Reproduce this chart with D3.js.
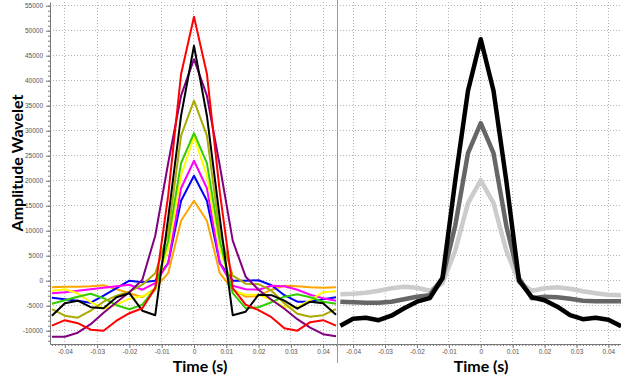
<!DOCTYPE html>
<html><head><meta charset="utf-8">
<script src="https://cdn.jsdelivr.net/npm/d3@7"></script>
<style>
html,body{margin:0;padding:0;background:#fff;}
svg{display:block;}
</style></head>
<body>
<svg id="chart" width="621" height="375"></svg>
<script>
// ---------- DATA ----------
const time = [-0.044,-0.040,-0.036,-0.032,-0.028,-0.024,-0.020,-0.016,-0.012,-0.008,-0.004,0,
              0.004,0.008,0.012,0.016,0.020,0.024,0.028,0.032,0.036,0.040,0.044];

const redWave    = [-9000,-7900,-8500,-9800,-10000,-8000,-6500,-5500,-1500,17000,41300,52800,41400,17700,-1500,-4800,-5900,-7300,-9500,-10000,-8300,-7900,-9000];
const blackWave  = [-7000,-4500,-4000,-5300,-5500,-3300,-2500,-6000,-6900,12500,33000,47000,33000,12500,-6900,-6200,-2800,-2900,-4000,-5600,-4200,-4500,-6800];
const purpleWave = [-11200,-11200,-10400,-8700,-6400,-4300,-2300,200,9000,23500,37000,44300,37000,23000,8000,800,-1800,-3800,-5600,-7700,-9400,-10700,-11100];
const oliveWave  = [-5700,-7000,-7400,-6000,-4200,-3000,-2200,-800,1500,9500,29000,36000,29000,9500,1000,-600,-700,-2000,-4500,-6600,-7200,-6900,-5700];
const greenWave  = [-4600,-3900,-3200,-2600,-3500,-4900,-5700,-4800,-1500,8000,23500,29500,23500,8000,-2500,-5500,-5300,-4300,-3200,-2700,-3300,-4200,-4600];
const yellowWave = [-2000,-1700,-2500,-4300,-5600,-4800,-3600,-3100,-2000,6500,21000,28800,21000,6500,-2000,-2800,-2800,-3800,-5300,-5300,-3900,-2300,-2100];
const magentaWave= [-2500,-2300,-2000,-1700,-1400,-1100,-800,-1800,-500,3500,18500,24000,18500,3500,-1000,-1700,-1800,-1000,-1100,-1800,-2800,-3500,-4000];
const blueWave   = [-3400,-3700,-4000,-4400,-3000,-1500,0,-300,0,3500,16000,21000,16000,3500,0,0,100,-900,-2900,-4200,-4200,-3700,-3300];
const orangeWave = [-1300,-1200,-1200,-1100,-900,-1700,-2500,-3300,-1500,1500,12000,16000,12000,1500,-1800,-3200,-3000,-1800,-1000,-1100,-1300,-1400,-1300];

const stackBlack = [-9000,-7600,-7400,-7900,-7000,-5500,-4200,-3500,500,20000,38000,48300,38000,20000,0,-3300,-3900,-5200,-6900,-7700,-7400,-7800,-9100];
const stackGray  = [-4200,-4300,-4400,-4400,-4200,-3700,-3200,-2900,500,11000,25500,31500,25500,11000,500,-3500,-3200,-3300,-3600,-4000,-4100,-4100,-4100];
const stackLight = [-2700,-2600,-2400,-2000,-1500,-1200,-1400,-2000,-500,6000,15500,20100,15500,6000,-300,-2000,-1500,-1300,-1600,-2100,-2500,-2800,-2900];

const xTicks = [-0.04,-0.03,-0.02,-0.01,0,0.01,0.02,0.03,0.04];
const xTickLabels = ["-0.04","-0.03","-0.02","-0.01","0","0.01","0.02","0.03","0.04"];
const yTicks = [-10000,-5000,0,5000,10000,15000,20000,25000,30000,35000,40000,45000,50000,55000];
const yTickLabels = ["-10000","-5000","0","5000","10000","15000","20000","25000","30000","35000","40000","45000","50000","55000"];

const leftSeries = [
  {name:"orange",  values:orangeWave,  color:"#ffa500"},
  {name:"blue",    values:blueWave,    color:"#0000ff"},
  {name:"magenta", values:magentaWave, color:"#ff00ff"},
  {name:"yellow",  values:yellowWave,  color:"#ffff00"},
  {name:"green",   values:greenWave,   color:"#33cc00"},
  {name:"olive",   values:oliveWave,   color:"#aaaa00"},
  {name:"purple",  values:purpleWave,  color:"#800080"},
  {name:"black",   values:blackWave,   color:"#000000"},
  {name:"red",     values:redWave,     color:"#ff0000"}
];
const rightSeries = [
  {name:"light", values:stackLight, color:"#cccccc"},
  {name:"gray",  values:stackGray,  color:"#666666"},
  {name:"black", values:stackBlack, color:"#000000"}
];

// ---------- LAYOUT ----------
const svg = d3.select("#chart");
const plotTop = 2, plotBottom = 344;
const xL = d3.scaleLinear().domain([-0.0446, 0.0443]).range([50, 337]);
const xR = d3.scaleLinear().domain([-0.04505, 0.04395]).range([337, 621]);
const y  = d3.scaleLinear().domain([-12660, 55740]).range([plotBottom, plotTop]);

const gridColor = "#b4b4b4";
function grid(x) {
  const g = svg.append("g");
  g.selectAll("line.v").data(xTicks).join("line").attr("class","v")
    .attr("x1", d => x(d)).attr("x2", d => x(d))
    .attr("y1", plotTop).attr("y2", plotBottom)
    .attr("stroke", gridColor).attr("stroke-width", 1).attr("stroke-dasharray", "1,2")
    .attr("shape-rendering","crispEdges");
  g.selectAll("line.h").data(yTicks).join("line").attr("class","h")
    .attr("x1", x.range()[0]).attr("x2", x.range()[1])
    .attr("y1", d => y(d)).attr("y2", d => y(d))
    .attr("stroke", gridColor).attr("stroke-width", 1).attr("stroke-dasharray", "1,2")
    .attr("shape-rendering","crispEdges");
}
grid(xL); grid(xR);

function xAxis(x) {
  const minor = d3.range(-45, 45).map(i => i / 1000).filter(v => v >= x.domain()[0] && v <= x.domain()[1]);
  const gm = svg.append("g").attr("transform", `translate(0,${plotBottom})`)
    .call(d3.axisBottom(x).tickValues(minor).tickSize(2).tickSizeOuter(0).tickFormat(""));
  gm.select(".domain").attr("stroke", "#777");
  gm.selectAll(".tick line").attr("stroke", "#777");
  const g = svg.append("g").attr("transform", `translate(0,${plotBottom})`)
    .call(d3.axisBottom(x).tickValues(xTicks).tickSize(4).tickSizeOuter(0).tickPadding(1.5)
      .tickFormat((d, i) => xTickLabels[i]));
  g.select(".domain").remove();
  g.selectAll(".tick line").attr("stroke", "#777");
  g.selectAll(".tick text").attr("font-family", "Liberation Sans, Arial, sans-serif")
    .attr("font-size", "6.5px").attr("fill", "#555");
}
xAxis(xL); xAxis(xR);

// y axis (left panel)
{
  const minor = d3.range(-12, 56).map(i => i * 1000);
  const gm = svg.append("g").attr("transform", `translate(50,0)`)
    .call(d3.axisLeft(y).tickValues(minor).tickSize(2).tickSizeOuter(0).tickFormat(""));
  gm.select(".domain").attr("stroke", "#777");
  gm.selectAll(".tick line").attr("stroke", "#777");
  const g = svg.append("g").attr("transform", `translate(50,0)`)
    .call(d3.axisLeft(y).tickValues(yTicks).tickSize(4).tickSizeOuter(0).tickPadding(3)
      .tickFormat((d, i) => yTickLabels[i]));
  g.select(".domain").remove();
  g.selectAll(".tick line").attr("stroke", "#777");
  g.selectAll(".tick text").attr("font-family", "Liberation Sans, Arial, sans-serif")
    .attr("font-size", "6.5px").attr("fill", "#555");
}

// divider
svg.append("line").attr("x1", 337.5).attr("x2", 337.5).attr("y1", 0).attr("y2", 363)
  .attr("stroke", "#999").attr("stroke-width", 1);

// ---------- LINES ----------
svg.append("clipPath").attr("id", "clipL").append("rect")
  .attr("x", 50).attr("y", 0).attr("width", 287).attr("height", plotBottom);
svg.append("clipPath").attr("id", "clipR").append("rect")
  .attr("x", 338).attr("y", 0).attr("width", 283).attr("height", plotBottom);

const lineL = d3.line().x((d, i) => xL(time[i])).y(d => y(d));
const lineR = d3.line().x((d, i) => xR(time[i])).y(d => y(d));

svg.append("g").attr("clip-path", "url(#clipL)")
  .selectAll("path").data(leftSeries).join("path")
  .attr("d", d => lineL(d.values)).attr("fill", "none")
  .attr("stroke", d => d.color).attr("stroke-width", 2).attr("stroke-linejoin", "round");

svg.append("g").attr("clip-path", "url(#clipR)")
  .selectAll("path").data(rightSeries).join("path")
  .attr("d", d => lineR(d.values)).attr("fill", "none")
  .attr("stroke", d => d.color).attr("stroke-width", 4.5).attr("stroke-linejoin", "round");

// ---------- TITLES ----------
svg.append("text").attr("x", 200).attr("y", 371.5).attr("text-anchor", "middle")
  .attr("font-family", "Lato, sans-serif").attr("font-weight", "bold").attr("font-size", "16px")
  .attr("fill", "#000").text("Time (s)");
svg.append("text").attr("x", 481).attr("y", 371.5).attr("text-anchor", "middle")
  .attr("font-family", "Lato, sans-serif").attr("font-weight", "bold").attr("font-size", "16px")
  .attr("fill", "#000").text("Time (s)");
svg.append("text").attr("transform", "translate(23,163) rotate(-90)").attr("text-anchor", "middle")
  .attr("font-family", "Lato, sans-serif").attr("font-weight", "bold").attr("font-size", "16px")
  .attr("fill", "#000").text("Amplitude Wavelet");
</script>
</body></html>
